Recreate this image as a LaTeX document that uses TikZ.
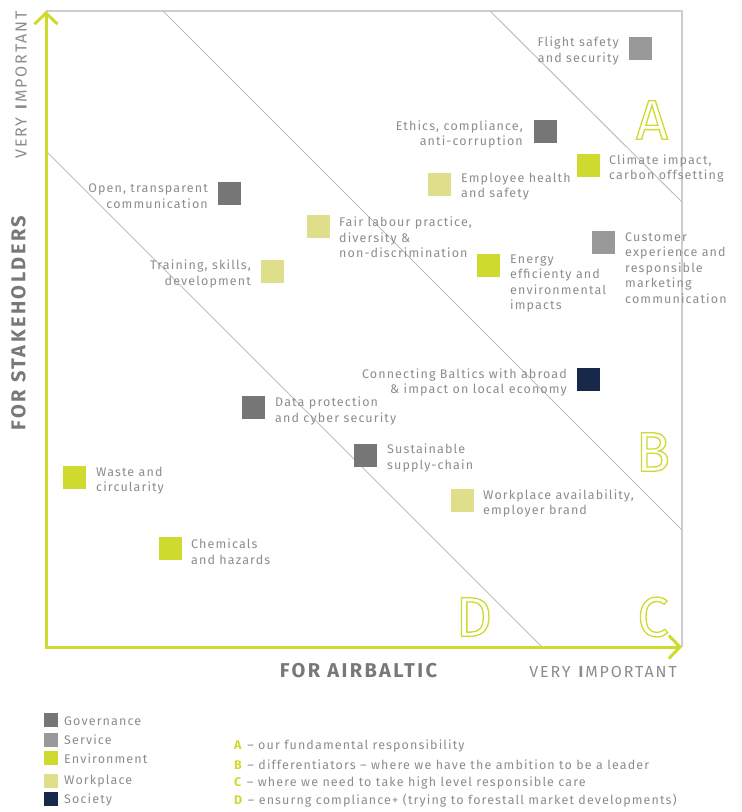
\documentclass[tikz,border=0pt]{standalone}
\usepackage{fontspec}
\setmainfont{Fira Sans}
\usetikzlibrary{arrows.meta}
\newfontfamily\lblfont[LetterSpace=9]{Fira Sans}
\newfontfamily\axfont[LetterSpace=12]{Fira Sans}
\newfontfamily\bigfont[LetterSpace=12]{Fira Sans}
\definecolor{cgreen}{RGB}{206,218,46}
\definecolor{cgov}{RGB}{118,118,118}
\definecolor{csrv}{RGB}{153,153,153}
\definecolor{cenv}{RGB}{206,218,46}
\definecolor{cwrk}{RGB}{223,223,139}
\definecolor{csoc}{RGB}{24,40,74}
\definecolor{txtgray}{RGB}{140,140,140}
\definecolor{axgray}{RGB}{120,120,120}
\definecolor{linegray}{RGB}{190,190,190}
\definecolor{framegray}{RGB}{205,205,205}
\newcommand{\outl}[1]{\special{pdf:literal direct 1 Tr 1.3 w}#1\special{pdf:literal direct 0 Tr}}
\tikzset{
  lbl/.style={font=\lblfont\fontsize{12.5}{15.5}\selectfont, text=txtgray, inner sep=0pt},
  lblL/.style={lbl, anchor=west, align=left},
  lblR/.style={lbl, anchor=east, align=right},
  sqr/.style={minimum size=23pt, inner sep=0pt, outer sep=0pt},
  lsq/.style={minimum size=14pt, inner sep=0pt, outer sep=0pt},
  gov/.style={fill=cgov},
  srv/.style={fill=csrv},
  envc/.style={fill=cenv},
  wrk/.style={fill=cwrk},
  soc/.style={fill=csoc},
  qletter/.style={font=\fontsize{56}{56}\selectfont, text=cgreen, inner sep=0pt},
  axisline/.style={draw=cgreen, line width=3pt, {Straight Barb[length=11pt,width=23pt]}-{Straight Barb[length=11pt,width=23pt]}},
  frameline/.style={draw=framegray, line width=1.2pt},
  diag/.style={draw=linegray, line width=1pt},
  axlabel/.style={font=\axfont\fontsize{16}{16}\selectfont, text=txtgray, inner sep=0pt},
  biglabel/.style={font=\bigfont\bfseries\fontsize{20}{20}\selectfont, text=axgray, inner sep=0pt},
  leg/.style={font=\lblfont\fontsize{12.5}{15.5}\selectfont, text=txtgray, inner sep=0pt, anchor=west}
}
\begin{document}
\begin{tikzpicture}[x=1pt,y=-1pt]
\useasboundingbox (0,0) rectangle (742,812);
% axes and frame
\coordinate (Ytop) at (46,11);
\coordinate (O) at (46,647);
\coordinate (Xend) at (682,647);
\coordinate (TR) at (682,11);
\draw[frameline] (Ytop) -- (TR) -- (Xend);
% diagonals
\coordinate (d1a) at (490,11); \coordinate (d1b) at (682,202);
\coordinate (d2a) at (163,11); \coordinate (d2b) at (682,530);
\coordinate (d3a) at (46,151); \coordinate (d3b) at (542,647);
\draw[diag] (d1a) -- (d1b);
\draw[diag] (d2a) -- (d2b);
\draw[diag] (d3a) -- (d3b);
\draw[axisline] (Ytop) -- (O) -- (Xend);
% quadrant letters
\node[qletter] (qA) at (652,120) {\outl{A}};
\node[qletter] (qB) at (653,452) {\outl{B}};
\node[qletter] (qC) at (653,617) {\outl{C}};
\node[qletter] (qD) at (474,617) {\outl{D}};
% axis labels
\node[axlabel, rotate=90] (vimpY) at (21,85) {VERY \textbf{I}MPORTANT};
\node[biglabel, rotate=90] (stake) at (18.5,323) {FOR STAKEHOLDERS};
\node[biglabel] (airb) at (358.5,670.5) {FOR AIRBALTIC};
\node[axlabel, anchor=east] (vimpX) at (677,672) {VERY \textbf{I}MPORTANT};
% squares
\node[sqr, srv] (sFlight) at (640.5,48.5) {};
\node[sqr, gov] (sEthics) at (545.5,131.5) {};
\node[sqr, envc] (sClimate) at (588.5,165.5) {};
\node[sqr, wrk] (sEmployee) at (439.5,184.5) {};
\node[sqr, wrk] (sFair) at (318.5,226.5) {};
\node[sqr, envc] (sEnergy) at (488.5,265.5) {};
\node[sqr, srv] (sCustomer) at (603.5,242.5) {};
\node[sqr, gov] (sOpen) at (229.5,193.5) {};
\node[sqr, wrk] (sTraining) at (272.5,271.5) {};
\node[sqr, soc] (sConnect) at (588.5,379.5) {};
\node[sqr, gov] (sSustain) at (365.5,455.5) {};
\node[sqr, wrk] (sWork) at (462.5,500.5) {};
\node[sqr, gov] (sData) at (253.5,407.5) {};
\node[sqr, envc] (sWaste) at (74.5,477.5) {};
\node[sqr, envc] (sChem) at (170.5,548.5) {};
% labels
\node[lblR] (tFlight) at (619,51) {Flight safety\\and security};
\node[lblR] (tEthics) at (523,134.5) {Ethics, compliance,\\anti-corruption};
\node[lblR] (tOpen) at (208,196) {Open, transparent\\communication};
\node[lblR] (tTraining) at (251,274) {Training, skills,\\development};
\node[lblR] (tConnect) at (567,382.5) {Connecting Baltics with abroad\\\& impact on local economy};
\node[lblL] (tClimate) at (609,168.5) {Climate impact,\\carbon offsetting};
\node[lblL] (tEmployee) at (461,186.5) {Employee health\\and safety};
\node[lblL] (tFair) at (339,237.5) {Fair labour practice,\\diversity \&\\non-discrimination};
\node[lblL] (tEnergy) at (510,283.5) {Energy\\efficienty and\\environmental\\impacts};
\node[lblL] (tCustomer) at (625,268) {Customer\\experience and\\responsible\\marketing\\communication};
\node[lblL] (tData) at (275,411) {Data protection\\and cyber security};
\node[lblL] (tSustain) at (387,458) {Sustainable\\supply-chain};
\node[lblL] (tWork) at (483,503.5) {Workplace availability,\\employer brand};
\node[lblL] (tWaste) at (96,480.5) {Waste and\\circularity};
\node[lblL] (tChem) at (191,551.5) {Chemicals\\and hazards};
% legend left
\node[lsq, gov] (lGov) at (51,720) {};
\node[lsq, srv] (lSrv) at (51,739.5) {};
\node[lsq, envc] (lEnv) at (51,758) {};
\node[lsq, wrk] (lWrk) at (51,780.5) {};
\node[lsq, soc] (lSoc) at (51,799) {};
\node[leg] (tGov) at (64,721) {Governance};
\node[leg] (tSrv) at (64,740) {Service};
\node[leg] (tEnv) at (64,758.5) {Environment};
\node[leg] (tWrk) at (64,781) {Workplace};
\node[leg] (tSoc) at (64,800) {Society};
% legend right
\node[leg] (kA) at (234,746) {\textcolor{cgreen}{\textbf{A}} – our fundamental responsibility};
\node[leg] (kB) at (234,764.5) {\textcolor{cgreen}{\textbf{B}} – differentiators – where we have the ambition to be a leader};
\node[leg] (kC) at (234,783) {\textcolor{cgreen}{\textbf{C}} – where we need to take high level responsible care};
\node[leg] (kD) at (234,801) {\textcolor{cgreen}{\textbf{D}} – ensurng compliance+ (trying to forestall market developments)};
\end{tikzpicture}
\end{document}
